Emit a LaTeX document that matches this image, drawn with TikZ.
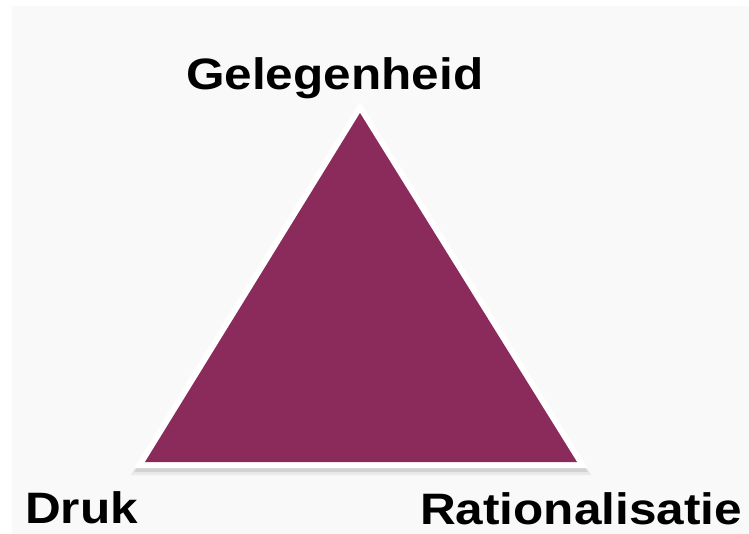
\documentclass[tikz,border=0pt]{standalone}
\usepackage{fontspec}
\newfontfamily\lbl{Liberation Sans}[FakeStretch=1.125]
\definecolor{plum}{HTML}{8A2B5C}
\definecolor{bgpaper}{HTML}{F9F9F9}
\tikzset{
  label/.style={inner sep=0pt, anchor=base west, font=\lbl\bfseries\fontsize{44}{52}\selectfont, text=black},
  tri/.style={line join=miter}
}
\begin{document}
\begin{tikzpicture}[x=1pt,y=-1pt]
\useasboundingbox (0,0) rectangle (749,534);
\fill[white] (0,0) rectangle (749,534);
\fill[bgpaper] (12,6) rectangle (749,534);
\coordinate (top) at (360,113);
\coordinate (bl) at (145,462);
\coordinate (br) at (577,462);
% shadow
\draw[tri, black, opacity=0.06, line width=16pt] ([yshift=-5pt]top) -- ([yshift=-5pt]bl) -- ([yshift=-5pt]br) -- cycle;
\draw[tri, black, opacity=0.10, line width=12pt] ([yshift=-4pt]top) -- ([yshift=-4pt]bl) -- ([yshift=-4pt]br) -- cycle;
% white border
\draw[tri, white, line width=12pt] (top) -- (bl) -- (br) -- cycle;
\fill[plum] (top) -- (bl) -- (br) -- cycle;
\node[label] (gel) at (186,90) {Gelegenheid};
\node[label] (druk) at (25,523) {Druk};
\node[label] (rat) at (420,524) {Rationalisatie};
\end{tikzpicture}
\end{document}
